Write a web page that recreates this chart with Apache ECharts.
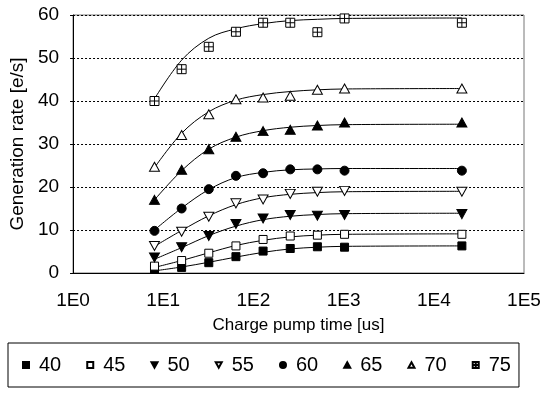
<!DOCTYPE html>
<html>
<head>
<meta charset="utf-8">
<script src="https://cdn.jsdelivr.net/npm/echarts@6/dist/echarts.min.js"></script>
<style>html,body{margin:0;padding:0;background:#fff}#c{width:546px;height:408px}</style>
</head>
<body>
<div id="c"></div>
<script>
const times = [8, 16, 32, 64, 128, 256, 512, 1024, 20480];
const names = ['40', '45', '50', '55', '60', '65', '70', '75'];
const s40 = [0.9, 1.3, 2.4, 3.8, 5.1, 5.7, 6.1, 6.0, 6.3];
const s45 = [1.6, 2.9, 4.6, 6.3, 7.8, 8.6, 8.8, 9.0, 9.0];
const s50 = [3.6, 6.0, 8.6, 11.4, 12.7, 13.5, 13.3, 13.5, 13.7];
const s55 = [6.3, 9.6, 13.1, 16.2, 17.1, 18.4, 18.9, 19.1, 18.9];
const s60 = [9.8, 15.0, 19.5, 22.6, 23.2, 24.1, 24.1, 23.8, 23.8];
const s65 = [17.0, 24.0, 28.8, 31.7, 33.0, 33.3, 34.3, 35.0, 35.0];
const s70 = [24.7, 32.1, 36.9, 40.4, 40.8, 41.2, 42.6, 42.9, 42.9];
const s75 = [40.0, 47.4, 52.6, 56.1, 58.2, 58.2, 56.0, 59.2, 58.2];
const fit40 = [0.5, 1.4, 2.5, 3.7, 4.8, 5.6, 6.0, 6.2, 6.3];
const fit45 = [1.3, 2.9, 4.7, 6.4, 7.6, 8.4, 8.8, 9.0, 9.1];
const fit50 = [3.2, 5.9, 8.7, 10.9, 12.4, 13.2, 13.6, 13.8, 13.9];
const fit55 = [6.2, 9.9, 13.3, 15.9, 17.5, 18.3, 18.7, 18.9, 19.0];
const fit60 = [10.0, 15.1, 19.4, 22.2, 23.4, 24.0, 24.2, 24.3, 24.3];
const fit65 = [17.0, 23.8, 28.8, 31.6, 33.1, 33.9, 34.3, 34.5, 34.6];
const fit70 = [24.5, 32.5, 37.5, 40.2, 41.5, 42.2, 42.6, 42.8, 42.9];
const fit75 = [40.5, 49.5, 54.6, 56.8, 58.0, 58.7, 59.0, 59.2, 59.3];
const yTicks = [0, 10, 20, 30, 40, 50, 60];
const xTickLabels = ['1E0', '1E1', '1E2', '1E3', '1E4', '1E5'];

const pts = [s40, s45, s50, s55, s60, s65, s70, s75];
const fits = [fit40, fit45, fit50, fit55, fit60, fit65, fit70, fit75];

const DOWN = 'path://M0,0L10,0L5,9Z';
const UP = 'path://M5,0L10,9L0,9Z';
const BOXCROSS = 'path://M0,0L10,0L10,10L0,10Z M5,0L5,10 M0,5L10,5';
const styles = [
  {symbol: 'rect', size: 8, fill: '#000'},
  {symbol: 'rect', size: 8, fill: '#fff'},
  {symbol: DOWN, size: [10, 9], fill: '#000'},
  {symbol: DOWN, size: [10, 9], fill: '#fff'},
  {symbol: 'circle', size: 9, fill: '#000'},
  {symbol: UP, size: [10, 9], fill: '#000'},
  {symbol: UP, size: [10, 9], fill: '#fff'},
  {symbol: BOXCROSS, size: 9, fill: '#fff'}
];

const zip = (xs, ys) => xs.map((x, i) => [x, ys[i]]);
const series = [];
fits.forEach((f, i) => {
  series.push({
    name: 'fit' + names[i], type: 'line', smooth: 0.35, showSymbol: false,
    data: zip(times, f), lineStyle: {color: '#000', width: 1}, z: 2, silent: true
  });
});
pts.forEach((p, i) => {
  const st = styles[i];
  series.push({
    name: names[i], type: 'scatter', symbol: st.symbol, symbolSize: st.size,
    data: zip(times, p),
    itemStyle: {color: st.fill, borderColor: '#000', borderWidth: 1, opacity: 1},
    z: 3
  });
});

const chart = echarts.init(document.getElementById('c'), null, {renderer: 'canvas'});
const FONT = 'Liberation Sans, Arial, sans-serif';
chart.setOption({
  animation: false,
  backgroundColor: '#fff',
  textStyle: {fontFamily: FONT, color: '#000'},
  grid: {left: 73, right: 22, top: 15, bottom: 135, show: true, borderColor: '#777', borderWidth: 1},
  legend: {
    data: names.map((n, i) => ({name: n, icon: styles[i].symbol})),
    left: 8, top: 343, width: 515, orient: 'horizontal',
    itemWidth: 6, itemHeight: 6, itemGap: 25,
    padding: [12, 8, 12, 14],
    borderColor: '#000', borderWidth: 1,
    textStyle: {fontFamily: FONT, fontSize: 20, color: '#000', padding: [0, 0, 0, 5]},
    selectedMode: false
  },
  xAxis: {
    type: 'log', logBase: 10, min: 1, max: 100000,
    name: 'Charge pump time [us]', nameLocation: 'middle', nameGap: 44,
    nameTextStyle: {fontFamily: FONT, fontSize: 17, color: '#000'},
    axisLine: {show: true, lineStyle: {color: '#000', width: 1}},
    axisTick: {show: false},
    minorTick: {show: false},
    splitLine: {show: false},
    axisLabel: {
      fontFamily: FONT, fontSize: 19, color: '#000', margin: 18,
      formatter: v => xTickLabels[Math.round(Math.log10(v))]
    }
  },
  yAxis: {
    type: 'value', min: yTicks[0], max: yTicks[yTicks.length - 1], interval: 10,
    name: 'Generation rate [e/s]', nameLocation: 'middle', nameGap: 44,
    nameTextStyle: {fontFamily: FONT, fontSize: 19, color: '#000'},
    axisLine: {show: true, lineStyle: {color: '#000', width: 1}},
    axisTick: {show: true, length: 3, lineStyle: {color: '#000'}},
    splitLine: {show: true, lineStyle: {color: '#000', type: [2, 2], width: 1}},
    axisLabel: {fontFamily: FONT, fontSize: 19, color: '#000', margin: 14}
  },
  series: series
});
</script>
</body>
</html>
